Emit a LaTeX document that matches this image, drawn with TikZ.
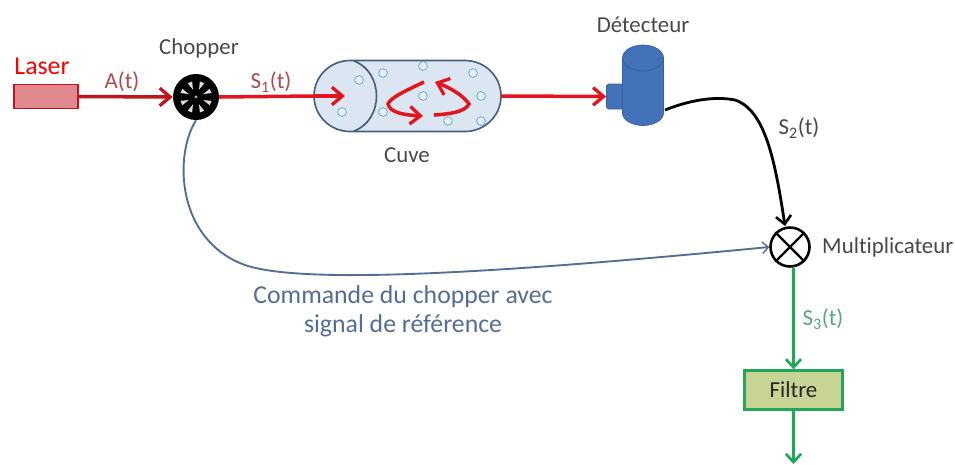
\documentclass[tikz,border=0pt]{standalone}
\usepackage{fontspec}
\setmainfont[RawFeature={-liga;-dlig;-clig}]{Carlito}
\usetikzlibrary{arrows.meta,calc}
\definecolor{lasred}{RGB}{192,20,30}
\definecolor{brightred}{RGB}{226,20,30}
\definecolor{lblred}{RGB}{176,72,80}
\definecolor{lblgrey}{RGB}{72,72,72}
\definecolor{cuvefill}{RGB}{220,230,242}
\definecolor{cuveline}{RGB}{70,95,125}
\definecolor{bubble}{RGB}{110,175,195}
\definecolor{detblue}{RGB}{68,114,184}
\definecolor{detdark}{RGB}{55,96,150}
\definecolor{refblue}{RGB}{84,108,150}
\definecolor{sgreen}{RGB}{34,166,90}
\definecolor{lblgreen}{RGB}{84,170,125}
\definecolor{filterfill}{RGB}{200,212,150}
\newcommand{\lblfont}{\fontsize{19.5}{22}\selectfont}
\tikzset{
 x=0.03cm,y=-0.03cm,
 lbl/.style={font=\lblfont,text=lblgrey,inner sep=0pt},
 beam/.style={draw=brightred,line width=3pt,-{Straight Barb[length=9pt,width=15pt,line width=2.8pt]}},
 bub/.style={draw=bubble,line width=.7pt,fill=cuvefill!70!white,circle,inner sep=0pt,minimum size=7.5pt},
 gbeam/.style={draw=sgreen,line width=2.5pt,-{Straight Barb[length=7pt,width=13pt,line width=2.3pt]}},
}
\begin{document}
\begin{tikzpicture}
\useasboundingbox (0,0) rectangle (955,464);
% Laser
\node[draw=lasred,fill=lasred!50!white,line width=1.5pt,minimum width=64*0.03cm,minimum height=24*0.03cm,inner sep=0pt] (laser) at (46,96.5) {};
\node[font=\fontsize{22}{24}\selectfont,text=red,inner sep=0pt] (laserlbl) at (42,66) {Laser};
% Chopper
\node[circle,fill=black,minimum size=46*0.03cm,inner sep=0pt] (chop) at (196,97) {};
\foreach \a in {0,45,...,315}{
  \fill[black!12] ($(chop)+(\a+22.5:8)$) -- ($(chop)+(\a+14:16)$) -- ($(chop)+(\a+31:16)$) -- cycle;
}
\fill[black!35] (chop) circle (1.6);
\node[lbl] (choplbl) at (199,48) {Chopper};
% Cuve
\node[lbl] (cuvelbl) at (407,155) {Cuve};
\path[draw=cuveline,line width=1.4pt,fill=cuvefill] (350,60.5) -- (465,60.5) arc[start angle=-90,end angle=90,x radius=36,y radius=35.5] -- (350,131.5) arc[start angle=90,end angle=270,x radius=36,y radius=35.5] -- cycle;
\coordinate (cuvein) at (314,96);
\coordinate (cuveout) at (501,96);
\draw[draw=cuveline,line width=1.4pt] (354,61) .. controls (384,72) and (384,120) .. (354,131);
\foreach \p in {(359,80),(342,112),(383,73),(423,66),(383,112),(423,96),(473,73),(481,96),(448,121),(481,121)}{
  \node[bub] at \p {};
}
% Detector
\node[lbl] (detlbl) at (643,25) {Détecteur};
\node[draw=detdark,fill=detblue,rounded corners=1.5pt,line width=.6pt,minimum width=18*0.03cm,minimum height=25*0.03cm,inner sep=0pt] (det) at (615.5,96.5) {};
\path[draw=detdark,fill=detblue,line width=.6pt] (622.5,58) -- (622.5,113) arc[start angle=180,end angle=0,x radius=20.5,y radius=12.5] -- (663.5,58) arc[start angle=0,end angle=-180,x radius=20.5,y radius=13];
\draw[detdark,line width=.7pt] (622.5,58) arc[start angle=180,end angle=0,x radius=20.5,y radius=13];
\coordinate (detout) at (665,110);
% Multiplier
\node[circle,draw=black,line width=2.2pt,fill=white,minimum size=39*0.03cm,inner sep=0pt] (mult) at (790,247) {};
\draw[black,line width=1.9pt] (mult.45) -- (mult.225) (mult.135) -- (mult.315);
\node[lbl,anchor=west] (multlbl) at (822,247) {Multiplicateur};
% Filter
\node[draw=sgreen,fill=filterfill,line width=2pt,minimum width=98*0.03cm,minimum height=39*0.03cm,inner sep=0pt,font=\lblfont,text=black!85] (filt) at (793.5,390) {Filtre};
\coordinate (filtend) at (793.5,464);
% beams
\draw[draw=lasred,line width=3pt,-{Straight Barb[length=9pt,width=15pt,line width=2.8pt]}] (laser.east) -- (chop.west);
\draw[draw=brightred,line width=3pt] (chop.east) -- (cuvein);
\draw[beam] (cuvein) -- (345,96);
\draw[beam] (cuveout) -- (det.west);
% inner arrows
\draw[beam] (424,82) .. controls (405,91) and (390,98) .. (388,104) .. controls (390,113) and (405,115) .. (423,116);
\draw[beam] (434,115) .. controls (450,114) and (465,112) .. (469,104) .. controls (462,94) and (448,87) .. (435,82);
% black
\draw[black,line width=2.4pt,-{Straight Barb[length=7pt,width=13pt,line width=2.2pt]}] (detout) .. controls (690,100) and (715,96) .. (735,100) .. controls (765,110) and (775,160) .. (785,226);
% blue
\draw[refblue,line width=1.6pt,-{Straight Barb[length=5pt,width=10pt,line width=1.2pt]}] (chop.south) .. controls (174,155) and (176,240) .. (245,265) .. controls (300,284) and (480,275) .. (mult.west);
% green
\draw[gbeam] (filt.north |- mult.south) -- (filt.north);
\draw[gbeam] (filt.south) -- (filtend);
% labels
\node[font=\lblfont,text=lblred,inner sep=0pt] (at) at (122,82) {A(t)};
\node[font=\lblfont,text=lblred,inner sep=0pt] (s1) at (271,82) {S\textsubscript{1}(t)};
\node[lbl] (s2) at (799,128) {S\textsubscript{2}(t)};
\node[font=\lblfont,text=lblgreen,inner sep=0pt] (s3) at (823,319) {S\textsubscript{3}(t)};
\node[font=\fontsize{22}{24.7}\selectfont,text=refblue,align=center,inner sep=0pt] (cmd) at (403,311.5) {Commande du chopper avec\\signal de référence};
\end{tikzpicture}
\end{document}
